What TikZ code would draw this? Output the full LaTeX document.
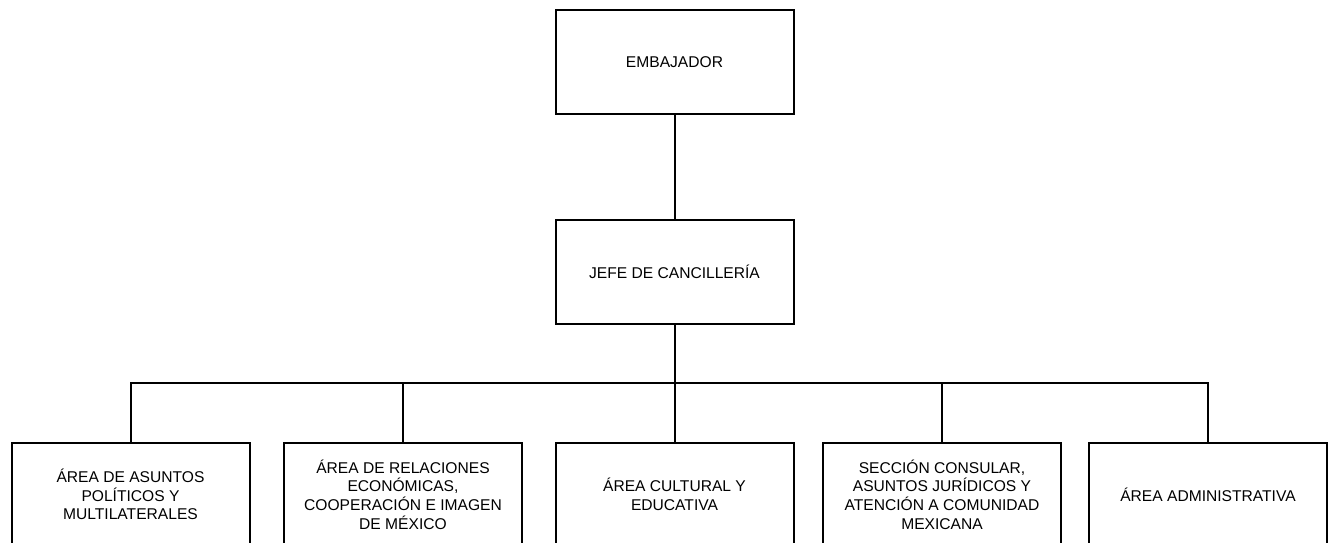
\documentclass[tikz,border=0pt]{standalone}
\usepackage{fontspec}
\setmainfont{Liberation Sans}
\usetikzlibrary{positioning}

\tikzset{
  puesto/.style={draw,line width=1.5pt,rectangle,align=center,
    minimum width=178.5pt,minimum height=78pt,inner sep=2pt,
    font=\fontsize{11.7}{14}\selectfont},
  enlace/.style={line width=1.5pt}
}

\begin{document}
\begin{tikzpicture}[x=0.75pt,y=-0.75pt]
  \useasboundingbox (0,0) rectangle (1329,543);
  % top of the chart
  \node[puesto](emb)at(674.5,62){EMBAJADOR};
  \node[puesto](jefe)at(674.5,271.5){JEFE DE CANCILLERÍA};
  % areas
  \node[puesto](a1)at(130.5,494.5){ÁREA DE ASUNTOS\\POLÍTICOS Y\\MULTILATERALES};
  \node[puesto](a2)at(403,494.5){ÁREA DE RELACIONES\\ECONÓMICAS,\\COOPERACIÓN E IMAGEN\\DE MÉXICO};
  \node[puesto](a3)at(674.5,494.5){ÁREA CULTURAL Y\\EDUCATIVA};
  \node[puesto](a4)at(942,494.5){SECCIÓN CONSULAR,\\ASUNTOS JURÍDICOS Y\\ATENCIÓN A COMUNIDAD\\MEXICANA};
  \node[puesto](a5)at(1208,494.5){ÁREA ADMINISTRATIVA};
  \coordinate(bus)at(674.5,383);
  \draw[enlace] (emb)--(jefe);
  \draw[enlace] (jefe)--(a3);
  \draw[enlace] (a1.north)|-(a5.north|-bus)--(a5.north);
  \draw[enlace] (a2.north)--(a2.north|-bus);
  \draw[enlace] (a4.north)--(a4.north|-bus);
\end{tikzpicture}
\end{document}
